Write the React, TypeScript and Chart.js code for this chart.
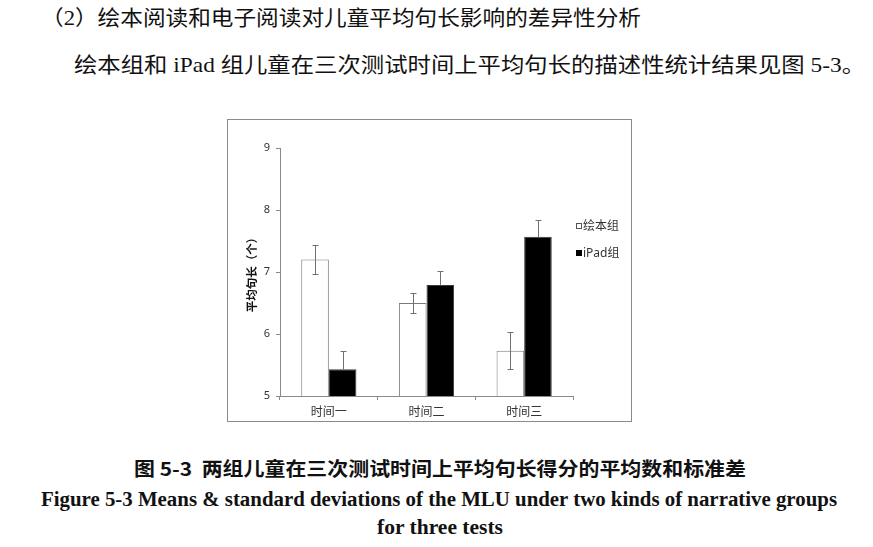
import React, { useEffect, useLayoutEffect, useRef } from "react";
import { Chart, registerables } from "chart.js";

Chart.register(...registerables);

// ---- data ----
const categories = ["时间一", "时间二", "时间三"];
const seriesNames = ["绘本组", "iPad组"];
const picturebookMeans = [7.2, 6.5, 5.73];
const picturebookSD = [0.24, 0.16, 0.3];
const ipadMeans = [5.43, 6.79, 7.57];
const ipadSD = [0.29, 0.22, 0.27];
const yMin = 5;
const yMax = 9;
const yStep = 1;
const yTitle = "平均句长（个）";

const heading1 = "（2）绘本阅读和电子阅读对儿童平均句长影响的差异性分析";
const heading2 = "绘本组和 iPad 组儿童在三次测试时间上平均句长的描述性统计结果见图 5-3。";
const captionCn = "图 5-3  两组儿童在三次测试时间上平均句长得分的平均数和标准差";
const captionEn1 = "Figure 5-3 Means & standard deviations of the MLU under two kinds of narrative groups";
const captionEn2 = "for three tests";

const CHART_FONT = "'Noto Sans', 'Noto Sans CJK SC', sans-serif";
const SERIF = "'Liberation Serif', 'Noto Sans CJK SC', serif";
const CN_BOLD = "'Noto Sans CJK SC', 'Liberation Serif', sans-serif";

const errorBarPlugin = {
  id: "errorBars",
  afterDatasetsDraw(chart: any, _args: any, opts: any) {
    const ctx = chart.ctx;
    const yScale = chart.scales.y;
    chart.data.datasets.forEach((ds: any, di: number) => {
      const meta = chart.getDatasetMeta(di);
      const sds = opts.sd[di];
      const upperOnly = opts.upperOnly[di];
      meta.data.forEach((bar: any, i: number) => {
        const v = ds.data[i];
        const sd = sds[i];
        const yTop = Math.round(yScale.getPixelForValue(v + sd)) + 0.5;
        const yBot = Math.round(yScale.getPixelForValue(upperOnly ? v : v - sd)) + 0.5;
        const x = Math.round(bar.x) + 0.5;
        ctx.save();
        ctx.strokeStyle = opts.color[di];
        ctx.lineWidth = 1;
        ctx.beginPath();
        ctx.moveTo(x, yTop);
        ctx.lineTo(x, yBot);
        ctx.moveTo(x - 3, yTop);
        ctx.lineTo(x + 3, yTop);
        if (!upperOnly) {
          ctx.moveTo(x - 3, yBot);
          ctx.lineTo(x + 3, yBot);
        }
        ctx.stroke();
        ctx.restore();
      });
    });
  },
};

const sideLegendPlugin = {
  id: "sideLegend",
  afterDraw(chart: any, _args: any, opts: any) {
    const ctx = chart.ctx;
    const x = chart.chartArea.right + opts.offsetX;
    opts.items.forEach((it: any, i: number) => {
      const y = Math.round(chart.chartArea.top + opts.firstY + i * opts.gap);
      ctx.save();
      ctx.fillStyle = it.fill;
      ctx.fillRect(x, y - 3, 6, 6);
      ctx.strokeStyle = it.stroke;
      ctx.lineWidth = 1;
      ctx.strokeRect(x + 0.5, y - 2.5, 5, 5);
      ctx.font = `12px ${CHART_FONT}`;
      ctx.fillStyle = "#333";
      ctx.textBaseline = "middle";
      ctx.textAlign = "left";
      ctx.fillText(it.label, x + 7, y + 0.5);
      ctx.restore();
    });
  },
};

function ChartBox() {
  const ref = useRef<HTMLCanvasElement>(null);
  useEffect(() => {
    if (!ref.current) return;
    const chart = new Chart(ref.current, {
      type: "bar",
      data: {
        labels: categories,
        datasets: [
          {
            label: seriesNames[0],
            data: picturebookMeans,
            backgroundColor: "#ffffff",
            borderColor: "#7a7a7a",
            borderWidth: 1,
          },
          {
            label: seriesNames[1],
            data: ipadMeans,
            backgroundColor: "#000000",
            borderColor: "#3a3a3a",
            borderWidth: 1,
          },
        ],
      },
      options: {
        animation: false,
        responsive: false,
        maintainAspectRatio: false,
        datasets: { bar: { categoryPercentage: 0.565, barPercentage: 1 } },
        layout: { padding: { top: 28, right: 58, left: 0, bottom: 0 } },
        plugins: {
          legend: { display: false },
          tooltip: { enabled: false },
          errorBars: {
            sd: [picturebookSD, ipadSD],
            upperOnly: [false, true],
            color: ["#707070", "#707070"],
          },
          sideLegend: {
            offsetX: 3,
            firstY: 77.7,
            gap: 27.6,
            items: [
              { label: seriesNames[0], fill: "#ffffff", stroke: "#555" },
              { label: seriesNames[1], fill: "#000000", stroke: "#000" },
            ],
          },
        } as any,
        scales: {
          x: {
            offset: true,
            grid: {
              display: true,
              drawOnChartArea: false,
              offset: true,
              tickLength: 4,
              color: "#8a8a8a",
            },
            border: { color: "#8a8a8a" },
            ticks: { font: { size: 12, family: CHART_FONT }, color: "#333", padding: 5 },
            afterFit(s: any) {
              s.height = 25;
            },
          },
          y: {
            min: yMin,
            max: yMax,
            ticks: { stepSize: yStep, font: { size: 11, family: CHART_FONT }, color: "#333", padding: 6 },
            grid: { drawOnChartArea: false, tickLength: 4, color: "#8a8a8a" },
            border: { color: "#8a8a8a" },
            title: {
              display: true,
              text: yTitle,
              font: { size: 11.5, family: CHART_FONT, weight: "bold" },
              color: "#111",
              padding: { top: 18, bottom: 0 },
            },
            afterFit(s: any) {
              s.width = 52;
            },
          },
        },
      },
      plugins: [errorBarPlugin, sideLegendPlugin],
    } as any);
    return () => chart.destroy();
  }, []);
  return (
    <div
      style={{
        position: "absolute",
        left: 227,
        top: 119,
        width: 405,
        height: 303,
        border: "1px solid #8a8a8a",
        boxSizing: "border-box",
        background: "#fff",
      }}
    >
      <canvas ref={ref} width={403} height={301} style={{ display: "block", width: 403, height: 301 }} />
    </div>
  );
}

function FitText(props: {
  text: string;
  left: number;
  right: number;
  cy: number;
  size: number;
  weight?: number | string;
  family: string;
}) {
  const { text, left, right, cy, size, weight, family } = props;
  const ref = useRef<HTMLSpanElement>(null);
  useLayoutEffect(() => {
    const fit = () => {
      const el = ref.current;
      if (!el) return;
      el.style.transform = "none";
      const w = el.getBoundingClientRect().width;
      if (w > 0) el.style.transform = `scaleX(${(right - left) / w})`;
    };
    fit();
    if ((document as any).fonts && (document as any).fonts.ready) {
      (document as any).fonts.ready.then(fit);
    }
  }, [text, left, right, size]);
  const lh = Math.round(size * 1.3);
  return (
    <span
      ref={ref}
      style={{
        position: "absolute",
        left,
        top: cy - lh / 2,
        fontSize: size,
        lineHeight: `${lh}px`,
        fontWeight: weight ?? "normal",
        fontFamily: family,
        whiteSpace: "pre",
        transformOrigin: "left center",
        color: "#111",
      }}
    >
      {text}
    </span>
  );
}

export default function App() {
  return (
    <div
      style={{
        position: "fixed",
        left: 0,
        top: 0,
        width: 873,
        height: 547,
        background: "#fff",
        overflow: "hidden",
      }}
    >
      <FitText text={heading1} left={41} right={641} cy={18} size={21} family={SERIF} />
      <FitText text={heading2} left={74} right={865} cy={65} size={21} family={SERIF} />
      <ChartBox />
      <FitText text={captionCn} left={134} right={746} cy={467} size={19} weight={700} family={CN_BOLD} />
      <FitText text={captionEn1} left={41} right={837} cy={499} size={20} weight={700} family={SERIF} />
      <FitText text={captionEn2} left={377} right={503} cy={527} size={20} weight={700} family={SERIF} />
    </div>
  );
}
